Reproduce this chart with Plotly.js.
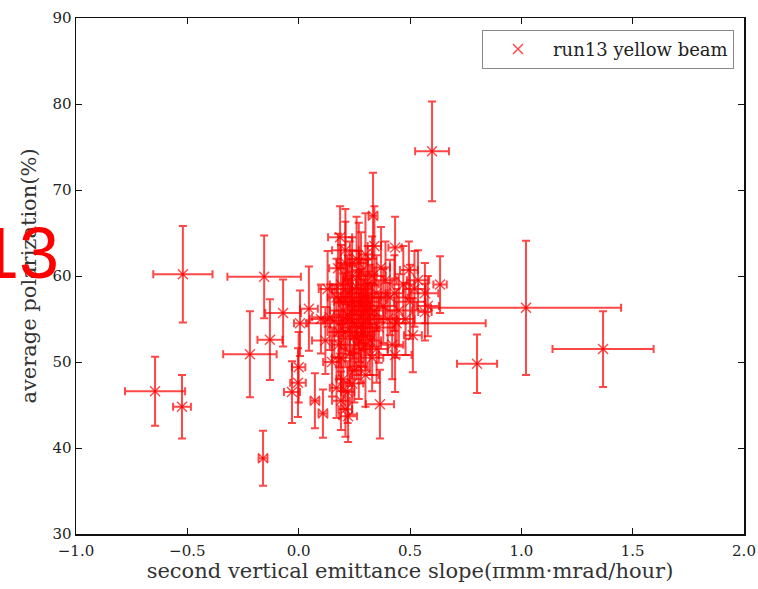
<!DOCTYPE html>
<html>
<head>
<meta charset="utf-8">
<script src="https://cdn.plot.ly/plotly-3.0.1.min.js"></script>
<style>html,body{margin:0;padding:0;background:#fff;}#chart{width:758px;height:589px;}</style>
</head>
<body>
<div id="chart"></div>
<script>
// second vertical emittance slope (pi mm mrad / hour)
const slope = [
  -0.645, -0.52, -0.524, -0.16, -0.155, -0.219, -0.129, -0.07, 0.006, 0.046,
  0.0, -0.003, -0.03, 0.073, 0.109, 0.599, 1.021, 1.367, 0.801, 0.365,
  0.222, 0.186, 0.334, 0.433, 0.495, 0.635, 0.567, 0.177, 0.536, 0.15,
  0.433, 0.513, 0.44, 0.567,
  0.14, 0.16, 0.17, 0.18, 0.19, 0.19, 0.20, 0.20, 0.21, 0.21,
  0.22, 0.22, 0.23, 0.23, 0.24, 0.24, 0.25, 0.25, 0.26, 0.26,
  0.27, 0.27, 0.28, 0.28, 0.29, 0.29, 0.30, 0.30, 0.31, 0.31,
  0.32, 0.32, 0.33, 0.34, 0.34, 0.35, 0.36, 0.37, 0.38, 0.39,
  0.40, 0.41, 0.42, 0.43, 0.45, 0.47, 0.48, 0.50, 0.52, 0.58,
  0.17, 0.19, 0.21, 0.24, 0.27, 0.30, 0.33, 0.12, 0.10, 0.13,
  0.18, 0.20, 0.22, 0.23, 0.25, 0.26, 0.28, 0.29, 0.31, 0.33,
  0.35, 0.24, 0.27, 0.21, 0.30
];
const slopeErr = [
  0.135, 0.133, 0.04, 0.02, 0.165, 0.12, 0.056, 0.08, 0.027, 0.04,
  0.03, 0.035, 0.036, 0.02, 0.02, 0.076, 0.427, 0.227, 0.09, 0.063,
  0.04, 0.054, 0.02, 0.03, 0.04, 0.03, 0.06, 0.04, 0.05, 0.04,
  0.074, 0.04, 0.40, 0.03,
  0.08, 0.05, 0.04, 0.03, 0.05, 0.04, 0.06, 0.03, 0.04, 0.05,
  0.03, 0.07, 0.04, 0.05, 0.03, 0.06, 0.04, 0.03, 0.05, 0.04,
  0.08, 0.03, 0.04, 0.06, 0.05, 0.10, 0.04, 0.03, 0.05, 0.07,
  0.04, 0.05, 0.06, 0.04, 0.03, 0.05, 0.07, 0.04, 0.06, 0.05,
  0.04, 0.08, 0.05, 0.04, 0.06, 0.05, 0.04, 0.07, 0.05, 0.05,
  0.03, 0.04, 0.03, 0.05, 0.04, 0.06, 0.05, 0.06, 0.05, 0.04,
  0.05, 0.04, 0.06, 0.03, 0.05, 0.07, 0.04, 0.05, 0.06, 0.04,
  0.05, 0.09, 0.04, 0.06, 0.05
];
// average polarization (%)
const polarization = [
  46.6, 60.2, 44.8, 38.8, 59.9, 50.9, 52.6, 55.7, 54.5, 56.2,
  49.4, 47.6, 46.5, 45.5, 44.0, 74.5, 56.3, 51.5, 49.8, 45.1,
  43.7, 64.5, 67.0, 63.3, 60.7, 59.0, 58.0, 60.9, 59.5, 50.0,
  50.8, 53.1, 54.5, 55.8,
  55.2, 54.8, 57.5, 52.0, 59.0, 50.5, 56.0, 48.0, 61.5, 53.5,
  46.5, 58.0, 55.0, 51.0, 60.0, 57.0, 53.0, 49.0, 62.0, 56.5,
  54.0, 58.5, 51.5, 60.5, 55.5, 57.5, 53.0, 62.5, 59.0, 55.0,
  57.0, 52.5, 60.0, 56.0, 63.5, 58.0, 54.0, 61.0, 56.5, 59.5,
  55.0, 57.5, 52.0, 58.0, 56.0, 59.0, 55.0, 57.0, 58.5, 56.5,
  47.0, 45.5, 44.5, 47.5, 49.5, 48.5, 50.5, 52.5, 55.0, 58.5,
  53.5, 57.0, 55.5, 59.5, 54.5, 52.0, 56.5, 53.5, 57.5, 55.0,
  51.5, 58.5, 61.5, 63.0, 56.0
];
const polarizationErr = [
  4.0, 5.6, 3.7, 3.2, 4.8, 5.0, 4.7, 3.9, 3.8, 4.9,
  4.1, 4.0, 3.6, 3.2, 2.8, 5.8, 7.8, 4.4, 3.4, 4.0,
  3.0, 3.6, 5.0, 3.6, 3.3, 3.3, 3.5, 4.0, 3.5, 4.0,
  4.3, 4.3, 4.0, 3.3,
  3.8, 4.2, 4.5, 4.0, 4.6, 3.9, 4.3, 3.5, 4.8, 4.1,
  3.6, 4.4, 4.2, 3.8, 4.5, 4.3, 4.0, 3.7, 4.9, 4.2,
  4.0, 4.4, 3.9, 4.6, 4.1, 4.4, 4.0, 4.8, 4.5, 4.2,
  4.3, 4.0, 4.6, 4.2, 4.6, 4.4, 4.1, 4.7, 4.3, 4.5,
  4.2, 4.4, 4.0, 4.4, 4.2, 4.5, 4.2, 4.3, 4.4, 3.5,
  3.5, 3.4, 3.2, 3.6, 3.8, 3.7, 3.9, 3.9, 4.0, 4.4,
  4.1, 4.3, 4.2, 4.5, 4.1, 4.0, 4.3, 4.1, 4.4, 4.2,
  3.9, 4.4, 4.7, 4.8, 4.2
];

const seriesName = 'run13 yellow beam';
const xTickVals = [-1.0, -0.5, 0.0, 0.5, 1.0, 1.5, 2.0];
const yTickVals = [30, 40, 50, 60, 70, 80, 90];

const red = 'rgba(255,0,0,0.72)';
const serif = '"DejaVu Serif", "Liberation Serif", serif';

const trace = {
  type: 'scatter',
  mode: 'markers',
  name: seriesName,
  x: slope,
  y: polarization,
  error_x: {type: 'data', array: slopeErr, visible: true, color: red, thickness: 2, width: 4},
  error_y: {type: 'data', array: polarizationErr, visible: true, color: red, thickness: 2, width: 4},
  marker: {symbol: 'x-thin-open', size: 10, color: red, line: {color: red, width: 1.4}},
  cliponaxis: true
};

const axisCommon = {
  showline: true, linecolor: '#111', linewidth: 1.5, mirror: 'allticks',
  ticks: 'inside', ticklen: 6, tickwidth: 1, tickcolor: '#111',
  showgrid: false, zeroline: false,
  tickfont: {family: serif, size: 15, color: '#222'}
};

const layout = {
  width: 758, height: 589,
  margin: {l: 76, r: 14, t: 18, b: 55},
  paper_bgcolor: '#fff', plot_bgcolor: '#fff',
  showlegend: true,
  legend: {
    x: 0.985, y: 0.977, xanchor: 'right', yanchor: 'top',
    bordercolor: '#888', borderwidth: 1, bgcolor: '#fff', itemwidth: 60,
    font: {family: serif, size: 18, color: '#222'}
  },
  xaxis: Object.assign({}, axisCommon, {
    range: [-1.0, 2.0], tickvals: xTickVals, tickformat: '.1f', ticklabelstandoff: 2,
    title: {text: 'second vertical emittance slope(πmm·mrad/hour)', font: {family: serif, size: 21, color: '#333'}, standoff: 4}
  }),
  yaxis: Object.assign({}, axisCommon, {
    range: [30, 90], tickvals: yTickVals,
    title: {text: 'average polarization(%)', font: {family: serif, size: 21, color: '#333'}, standoff: 10}
  }),
  annotations: [{
    text: '13', xref: 'paper', yref: 'paper', x: -0.0225, y: 0.545,
    xanchor: 'right', yanchor: 'middle', showarrow: false,
    font: {family: '"Liberation Sans", Arial, sans-serif', size: 72, color: '#ff0000'}
  }]
};

Plotly.newPlot('chart', [trace], layout, {displayModeBar: false, staticPlot: true});
</script>
</body>
</html>
